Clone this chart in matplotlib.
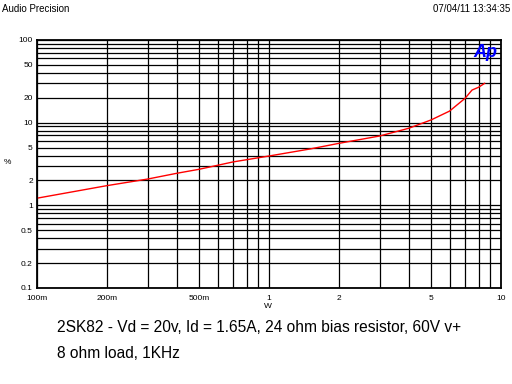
import matplotlib
matplotlib.use("Agg")
import matplotlib.pyplot as plt
from matplotlib.ticker import FixedLocator, FixedFormatter, NullFormatter

plt.rcParams['font.family'] = ['Liberation Sans', 'DejaVu Sans']

# power (W) vs THD+N (%)
power_w = [0.1, 0.2, 0.3, 0.4, 0.5, 0.7, 1.0, 1.5, 2.0, 3.0, 4.0, 5.0, 6.0, 7.0, 7.5, 8.0, 8.5]
thd_pct = [1.22, 1.73, 2.08, 2.44, 2.73, 3.35, 3.95, 4.8, 5.62, 6.9, 8.55, 10.8, 13.8, 19.7, 24.8, 26.8, 29.9]

x_ticks = [0.1, 0.2, 0.5, 1, 2, 5, 10]
x_labels = ["100m", "200m", "500m", "1", "2", "5", "10"]
y_ticks = [0.1, 0.2, 0.5, 1, 2, 5, 10, 20, 50, 100]
y_labels = ["0.1", "0.2", "0.5", "1", "2", "5", "10", "20", "50", "100"]

fig = plt.figure(figsize=(5.12, 3.84), dpi=100)
ax = fig.add_axes([37 / 512, 1 - 288 / 384, 464 / 512, 248 / 384])

ax.plot(power_w, thd_pct, color="red", lw=1.0)

ax.set_xscale("log")
ax.set_yscale("log")
ax.set_xlim(0.1, 10)
ax.set_ylim(0.1, 100)

ax.xaxis.set_major_locator(FixedLocator(x_ticks))
ax.xaxis.set_major_formatter(FixedFormatter(x_labels))
ax.yaxis.set_major_locator(FixedLocator(y_ticks))
ax.yaxis.set_major_formatter(FixedFormatter(y_labels))
ax.xaxis.set_minor_formatter(NullFormatter())
ax.yaxis.set_minor_formatter(NullFormatter())

ax.grid(True, which="both", color="black", lw=0.9)
ax.tick_params(which="both", length=0, labelsize=6, pad=3)
ax.tick_params(axis="x", pad=5)
for s in ax.spines.values():
    s.set_linewidth(1.3)

fig.text(7 / 512, 1 - 162 / 384, "%", fontsize=6, ha="center", va="center")
fig.text(268 / 512, 1 - 306 / 384, "W", fontsize=6, ha="center", va="center")

ax.text(0.993, 0.985, "Ap", transform=ax.transAxes, ha="right", va="top",
        color="blue", fontsize=13, fontweight="bold", style="italic")

fig.text(2 / 512, 1 - 9 / 384, "Audio Precision", fontsize=7, va="center")
fig.text(510 / 512, 1 - 9 / 384, "07/04/11 13:34:35", fontsize=7, va="center", ha="right")

fig.text(57 / 512, 1 - 328 / 384, "2SK82 - Vd = 20v, Id = 1.65A, 24 ohm bias resistor, 60V v+",
         fontsize=11.2, va="center")
fig.text(57 / 512, 1 - 353 / 384, "8 ohm load, 1KHz", fontsize=11.2, va="center")

fig.savefig("out.png", dpi=100)
